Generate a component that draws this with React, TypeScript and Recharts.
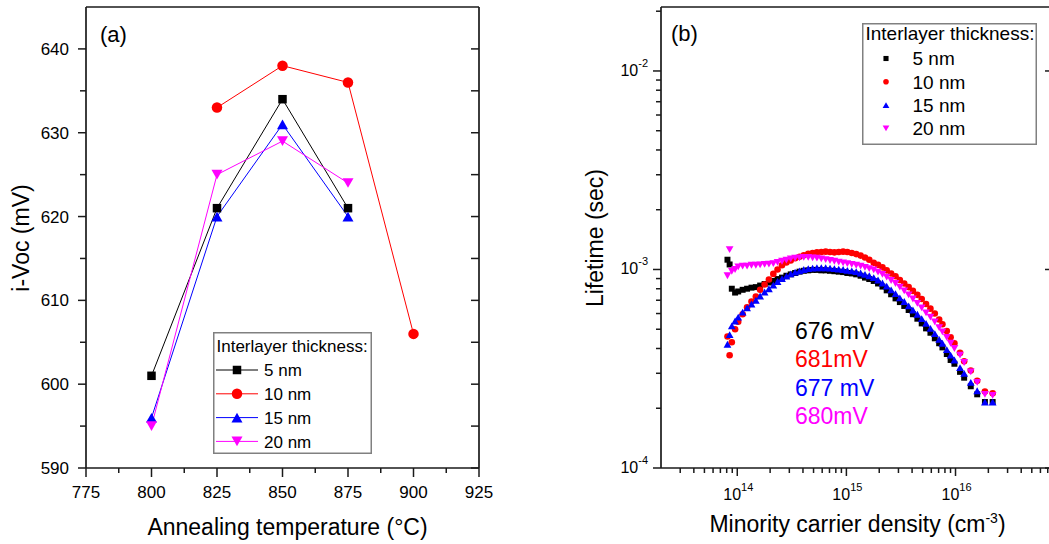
import React from "react";
import { Legend, Line, LineChart, Scatter, ScatterChart, XAxis, YAxis } from "recharts";

const FONT = '"Liberation Sans", Arial, Helvetica, sans-serif';
const FRAME = "#1a1a1a";
const BLACK = "#000000";
const RED = "#ff0000";
const BLUE = "#0000ff";
const MAGENTA = "#ff00ff";

// ---------- panel (a): i-Voc vs annealing temperature ----------
const thickness = ["5 nm", "10 nm", "15 nm", "20 nm"];
const temp5nm = [800, 825, 850, 875];
const voc5nm = [601, 621, 634, 621];
const temp10nm = [825, 850, 875, 900];
const voc10nm = [633, 638, 636, 606];
const temp15nm = [800, 825, 850, 875];
const voc15nm = [596, 620, 631, 620];
const temp20nm = [800, 825, 850, 875];
const voc20nm = [595, 625, 629, 624];

const tempDomain: [number, number] = [775, 925];
const tempTicks = [775, 787.5, 800, 812.5, 825, 837.5, 850, 862.5, 875, 887.5, 900, 912.5, 925];
const vocDomain: [number, number] = [590, 645];
const vocTicks = [590, 595, 600, 605, 610, 615, 620, 625, 630, 635, 640];

// ---------- panel (b): lifetime vs minority carrier density ----------
const density = [
  8.13e13, 8.51e13, 8.91e13, 9.55e13,
  1.02e14, 1.12e14, 1.23e14, 1.35e14, 1.48e14, 1.62e14, 1.78e14, 1.95e14, 2.14e14, 2.34e14,
  2.57e14, 2.82e14, 3.09e14, 3.39e14, 3.72e14, 4.07e14, 4.47e14, 4.9e14, 5.37e14, 5.89e14,
  6.46e14, 7.08e14, 7.76e14, 8.51e14, 9.33e14, 1.02e15, 1.12e15, 1.23e15, 1.35e15, 1.48e15,
  1.62e15, 1.78e15, 1.95e15, 2.14e15, 2.34e15, 2.57e15, 2.82e15, 3.09e15, 3.39e15, 3.72e15,
  4.07e15, 4.47e15, 4.9e15, 5.37e15, 5.89e15, 6.46e15, 7.08e15,
  7.59e15, 8.32e15, 9.02e15, 9.77e15, 1.1e16, 1.2e16, 1.38e16, 1.58e16, 1.86e16, 2.19e16,
];
// lifetimes in ms, one value per density point
const tau5nmMs = [
  1.12, 1.06, 0.8, 0.765,
  0.775, 0.79, 0.8, 0.81, 0.815, 0.83, 0.845, 0.86, 0.875, 0.895,
  0.91, 0.93, 0.945, 0.96, 0.975, 0.985, 0.99, 0.995, 0.995, 0.99,
  0.99, 0.985, 0.98, 0.975, 0.97, 0.96, 0.955, 0.945, 0.93, 0.91,
  0.895, 0.875, 0.85, 0.82, 0.785, 0.75, 0.715, 0.685, 0.655, 0.625,
  0.595, 0.565, 0.535, 0.505, 0.48, 0.45, 0.425,
  0.405, 0.375, 0.35, 0.335, 0.305, 0.285, 0.258, 0.235, 0.215, 0.215,
];
const tau10nmMs = [
  0.46, 0.37, 0.43, 0.5,
  0.545, 0.595, 0.645, 0.69, 0.73, 0.79, 0.84, 0.89, 0.95, 1.0,
  1.05, 1.085, 1.11, 1.14, 1.16, 1.18, 1.2, 1.21, 1.22, 1.225,
  1.23, 1.225, 1.22, 1.225, 1.23, 1.225, 1.21, 1.195, 1.175, 1.15,
  1.12, 1.08, 1.055, 1.025, 0.99, 0.955, 0.925, 0.885, 0.85, 0.815,
  0.78, 0.745, 0.71, 0.67, 0.635, 0.6, 0.56,
  0.53, 0.49, 0.455, 0.425, 0.38, 0.345, 0.31, 0.275, 0.243, 0.238,
];
const tau15nmMs = [
  0.42, 0.47, 0.52, 0.55,
  0.575, 0.61, 0.64, 0.67, 0.7, 0.735, 0.77, 0.8, 0.835, 0.87,
  0.9, 0.925, 0.95, 0.97, 0.985, 1.0, 1.01, 1.015, 1.02, 1.02,
  1.02, 1.015, 1.01, 1.005, 1.0, 0.99, 0.985, 0.975, 0.96, 0.945,
  0.93, 0.91, 0.885, 0.855, 0.825, 0.79, 0.755, 0.72, 0.69, 0.655,
  0.625, 0.595, 0.565, 0.535, 0.505, 0.475, 0.445,
  0.425, 0.395, 0.37, 0.35, 0.32, 0.3, 0.27, 0.245, 0.215, 0.215,
];
const tau20nmMs = [
  0.93, 1.26, 0.98, 1.0,
  1.03, 1.04, 1.04, 1.05, 1.05, 1.055, 1.06, 1.065, 1.07, 1.085,
  1.1, 1.115, 1.13, 1.14, 1.145, 1.15, 1.15, 1.145, 1.14, 1.13,
  1.12, 1.11, 1.1, 1.09, 1.08, 1.07, 1.06, 1.05, 1.04, 1.025,
  1.01, 0.995, 0.97, 0.945, 0.915, 0.88, 0.85, 0.815, 0.78, 0.745,
  0.71, 0.675, 0.64, 0.605, 0.575, 0.545, 0.51,
  0.485, 0.455, 0.425, 0.4, 0.37, 0.34, 0.305, 0.27, 0.235, 0.232,
];
const implicitVoc = ["676 mV", "681mV", "677 mV", "680mV"];

const densityDomain: [number, number] = [2e13, 7.5e16];
const densityDecades = [1e13, 1e14, 1e15, 1e16];
const lifetimeDomain: [number, number] = [1e-4, 0.021];
const lifetimeDecades = [1e-4, 1e-3, 1e-2];
const minorSteps = [2, 3, 4, 5, 6, 7, 8, 9];

const isDecade = (v: number) => Math.abs(Math.log10(v) - Math.round(Math.log10(v))) < 1e-6;
const logTicks = (decades: number[], [lo, hi]: [number, number]) =>
  decades
    .flatMap((d) => [d, ...minorSteps.map((k) => k * d)])
    .filter((v) => (isDecade(v) ? v >= lo * 0.999 : v > lo * 1.01) && v <= hi * 1.001);
const densityTicks = logTicks(densityDecades, densityDomain);
const lifetimeTicks = logTicks(lifetimeDecades, lifetimeDomain);

type Kind = "square" | "circle" | "up" | "down";
const colors = [BLACK, RED, BLUE, MAGENTA];
const kinds: Kind[] = ["square", "circle", "up", "down"];

const seriesA = [
  { t: temp5nm, v: voc5nm },
  { t: temp10nm, v: voc10nm },
  { t: temp15nm, v: voc15nm },
  { t: temp20nm, v: voc20nm },
].map((s, i) => ({
  name: thickness[i],
  color: colors[i],
  kind: kinds[i],
  points: s.t.map((t, j) => ({ t, v: s.v[j] })),
}));

const seriesB = [tau5nmMs, tau10nmMs, tau15nmMs, tau20nmMs].map((ms, i) => ({
  name: thickness[i],
  color: colors[i],
  kind: kinds[i],
  points: density.map((n, j) => ({ n, tau: ms[j] / 1000 })),
}));

function Marker({ kind, cx, cy, size, color }: { kind: Kind; cx: number; cy: number; size: number; color: string }) {
  if (cx == null || cy == null || isNaN(cx) || isNaN(cy)) return null;
  const h = size / 2;
  if (kind === "square") return <rect x={cx - h * 0.85} y={cy - h * 0.85} width={size * 0.85} height={size * 0.85} fill={color} />;
  if (kind === "circle") return <circle cx={cx} cy={cy} r={h} fill={color} />;
  const th = size * 0.92;
  if (kind === "up")
    return <path d={`M${cx},${cy - th / 2}L${cx + h * 1.05},${cy + th / 2}L${cx - h * 1.05},${cy + th / 2}Z`} fill={color} />;
  return <path d={`M${cx},${cy + th / 2}L${cx + h * 1.05},${cy - th / 2}L${cx - h * 1.05},${cy - th / 2}Z`} fill={color} />;
}

// ---------- ticks drawn by hand so majors/minors can differ and point in or out ----------
type Side = "bottom" | "top" | "left" | "right";
const AWAY: Record<Side, [number, number]> = { bottom: [0, 1], top: [0, -1], left: [-1, 0], right: [1, 0] };

interface TickSpec {
  side: Side;
  outward: boolean;
  major: number;
  minor: number;
  isMajor: (v: number) => boolean;
  label?: (v: number, x: number, y: number) => React.ReactNode;
}

const makeTick = (spec: TickSpec) => (props: any) => {
  const { x, y, payload } = props;
  const v = Number(payload?.value);
  const big = spec.isMajor(v);
  const len = (big ? spec.major : spec.minor) * (spec.outward ? 1 : -1);
  const [dx, dy] = AWAY[spec.side];
  return (
    <g>
      <line x1={x} y1={y} x2={x + dx * len} y2={y + dy * len} stroke={FRAME} strokeWidth={1.5} />
      {big && spec.label ? spec.label(v, x, y) : null}
    </g>
  );
};

const frameLine = { stroke: FRAME, strokeWidth: 1.7 };
const axisBase = { tickSize: 0, tickMargin: 0, tickLine: false, interval: 0 as const, allowDataOverflow: true, axisLine: frameLine };

const pow10 = (v: number) => String(Math.round(Math.log10(v)));
const tempMajor = (v: number) => v % 25 === 0;
const vocMajor = (v: number) => v % 10 === 0;

function LegendBox({ width, titleSize, rowSize, titleY, rowY, rowStep, markerX, textX, line, markerScale, series }: any) {
  return (
    <svg width={width} height={122} style={{ display: "block", fontFamily: FONT }}>
      <rect x={0.75} y={0.75} width={width - 1.5} height={120.5} fill="#fff" stroke="#808080" strokeWidth={1.5} />
      <text x={3.5} y={titleY} fontSize={titleSize} fill="#000">
        Interlayer thickness:
      </text>
      {series.map((s: any, i: number) => {
        const cy = rowY + i * rowStep;
        return (
          <g key={s.name}>
            {line && <line x1={3} x2={45} y1={cy} y2={cy} stroke={s.color} strokeWidth={1} />}
            <Marker kind={s.kind} cx={markerX} cy={cy} size={markerScale(s.kind)} color={s.color} />
            <text x={textX} y={cy + rowSize * 0.36} fontSize={rowSize} fill="#000">
              {s.name}
            </text>
          </g>
        );
      })}
    </svg>
  );
}

const sizeA = (k: Kind) => (k === "square" ? 10 : 10.5);
const sizeB = (k: Kind) => (k === "square" ? 7 : k === "circle" ? 6.6 : 7.4);
const sizeLegB = (k: Kind) => (k === "square" ? 6 : k === "circle" ? 5.6 : 6.4);

function PanelA() {
  return (
    <LineChart width={520} height={544} margin={{ top: 6, right: 40, bottom: 0, left: 0 }}>
      <XAxis
        {...axisBase}
        xAxisId="x"
        dataKey="t"
        type="number"
        domain={tempDomain}
        ticks={tempTicks}
        height={76}
        tick={makeTick({
          side: "bottom",
          outward: true,
          major: 9,
          minor: 5,
          isMajor: tempMajor,
          label: (v, x, y) => (
            <text x={x} y={y + 30} textAnchor="middle" fontSize={17} fill="#000" fontFamily={FONT}>
              {v}
            </text>
          ),
        })}
      />
      <XAxis
        {...axisBase}
        xAxisId="xt"
        orientation="top"
        type="number"
        domain={tempDomain}
        ticks={tempTicks}
        height={1}
        tick={makeTick({ side: "top", outward: false, major: 9, minor: 5, isMajor: tempMajor })}
      />
      <YAxis
        {...axisBase}
        yAxisId="y"
        type="number"
        domain={vocDomain}
        ticks={vocTicks}
        width={86}
        tick={makeTick({
          side: "left",
          outward: true,
          major: 8,
          minor: 6,
          isMajor: vocMajor,
          label: (v, x, y) => (
            <text x={x - 17} y={y + 6} textAnchor="end" fontSize={17} fill="#000" fontFamily={FONT}>
              {v}
            </text>
          ),
        })}
      />
      <YAxis
        {...axisBase}
        yAxisId="yr"
        orientation="right"
        type="number"
        domain={vocDomain}
        ticks={vocTicks}
        width={1}
        tick={makeTick({ side: "right", outward: false, major: 8, minor: 8, isMajor: vocMajor })}
      />
      {seriesA.map((s) => (
        <Line
          key={s.name}
          xAxisId="x"
          yAxisId="y"
          data={s.points}
          dataKey="v"
          stroke={s.color}
          strokeWidth={1}
          dot={(p: any) => <Marker key={p.index} kind={s.kind} cx={p.cx} cy={p.cy} size={sizeA(s.kind)} color={s.color} />}
          activeDot={false}
          isAnimationActive={false}
        />
      ))}
      <Legend
        layout="vertical"
        align="center"
        verticalAlign="middle"
        wrapperStyle={{ left: 213, top: 332, width: 159, height: 122 }}
        content={() => (
          <LegendBox
            width={159}
            titleSize={17}
            rowSize={17}
            titleY={19.5}
            rowY={38}
            rowStep={23.8}
            markerX={24}
            textX={51}
            line
            markerScale={sizeA}
            series={seriesA}
          />
        )}
      />
    </LineChart>
  );
}

function PanelB() {
  return (
    <ScatterChart width={480} height={544} margin={{ top: 6, right: 8, bottom: 0, left: 0 }}>
      <XAxis
        {...axisBase}
        xAxisId="x"
        dataKey="n"
        type="number"
        scale="log"
        domain={densityDomain}
        ticks={densityTicks}
        height={76}
        tick={makeTick({
          side: "bottom",
          outward: true,
          major: 8,
          minor: 5,
          isMajor: isDecade,
          label: (v, x, y) => (
            <text x={x + 1} y={y + 32} textAnchor="middle" fontSize={16} fill="#000" fontFamily={FONT}>
              <tspan>10</tspan>
              <tspan dy={-9} fontSize={11}>
                {pow10(v)}
              </tspan>
            </text>
          ),
        })}
      />
      <XAxis
        {...axisBase}
        xAxisId="xt"
        orientation="top"
        type="number"
        scale="log"
        domain={densityDomain}
        ticks={densityTicks}
        height={1}
        tick={makeTick({ side: "top", outward: false, major: 9, minor: 5, isMajor: isDecade })}
      />
      <YAxis
        {...axisBase}
        yAxisId="y"
        dataKey="tau"
        type="number"
        scale="log"
        domain={lifetimeDomain}
        ticks={lifetimeTicks}
        width={81}
        tick={makeTick({
          side: "left",
          outward: true,
          major: 8,
          minor: 5,
          isMajor: isDecade,
          label: (v, x, y) => (
            <text x={x - 13} y={y + 5} textAnchor="end" fontSize={16} fill="#000" fontFamily={FONT}>
              <tspan>10</tspan>
              <tspan dy={-9} fontSize={11}>
                {pow10(v)}
              </tspan>
            </text>
          ),
        })}
      />
      <YAxis
        {...axisBase}
        yAxisId="yr"
        orientation="right"
        type="number"
        scale="log"
        domain={lifetimeDomain}
        ticks={lifetimeDecades}
        width={1}
        tick={makeTick({ side: "right", outward: false, major: 6, minor: 0, isMajor: isDecade })}
      />
      {seriesB.map((s) => (
        <Scatter
          key={s.name}
          xAxisId="x"
          yAxisId="y"
          data={s.points}
          dataKey="tau"
          fill={s.color}
          shape={(p: any) => <Marker kind={s.kind} cx={p.cx} cy={p.cy} size={sizeB(s.kind)} color={s.color} />}
          isAnimationActive={false}
        />
      ))}
      <Legend
        layout="vertical"
        align="center"
        verticalAlign="middle"
        wrapperStyle={{ left: 282, top: 23, width: 175, height: 122 }}
        content={() => (
          <LegendBox
            width={175}
            titleSize={19}
            rowSize={19}
            titleY={16.5}
            rowY={35.5}
            rowStep={23.3}
            markerX={24}
            textX={50.5}
            line={false}
            markerScale={sizeLegB}
            series={seriesB}
          />
        )}
      />
    </ScatterChart>
  );
}

export default function App() {
  return (
    <div
      style={{
        position: "absolute",
        left: 0,
        top: 0,
        width: 1049,
        height: 544,
        overflow: "hidden",
        background: "#fff",
        fontFamily: FONT,
      }}
    >
      <div style={{ position: "absolute", left: 0, top: 0 }}>
        <PanelA />
      </div>
      <div style={{ position: "absolute", left: 580, top: 0 }}>
        <PanelB />
      </div>
      <svg
        width={1049}
        height={544}
        style={{ position: "absolute", left: 0, top: 0, pointerEvents: "none" }}
        fontFamily={FONT}
      >
        <text x={100} y={42} fontSize={22} fill="#000">
          (a)
        </text>
        <text x={671} y={41} fontSize={22} fill="#000">
          (b)
        </text>
        <text transform="translate(28.5,238) rotate(-90)" textAnchor="middle" fontSize={23} fill="#000">
          i-Voc (mV)
        </text>
        <text x={287.5} y={535} textAnchor="middle" fontSize={23} fill="#000">
          Annealing temperature (°C)
        </text>
        <text transform="translate(603,238) rotate(-90)" textAnchor="middle" fontSize={23} fill="#000">
          Lifetime (sec)
        </text>
        <text x={857.5} y={532} textAnchor="middle" fontSize={23} fill="#000">
          Minority carrier density (cm
          <tspan dy={-9} fontSize={14}>
            -3
          </tspan>
          <tspan dy={9}>)</tspan>
        </text>
        {implicitVoc.map((label, i) => (
          <text key={label} x={795} y={338.5 + i * 28.5} fontSize={23} fill={colors[i]}>
            {label}
          </text>
        ))}
      </svg>
    </div>
  );
}
